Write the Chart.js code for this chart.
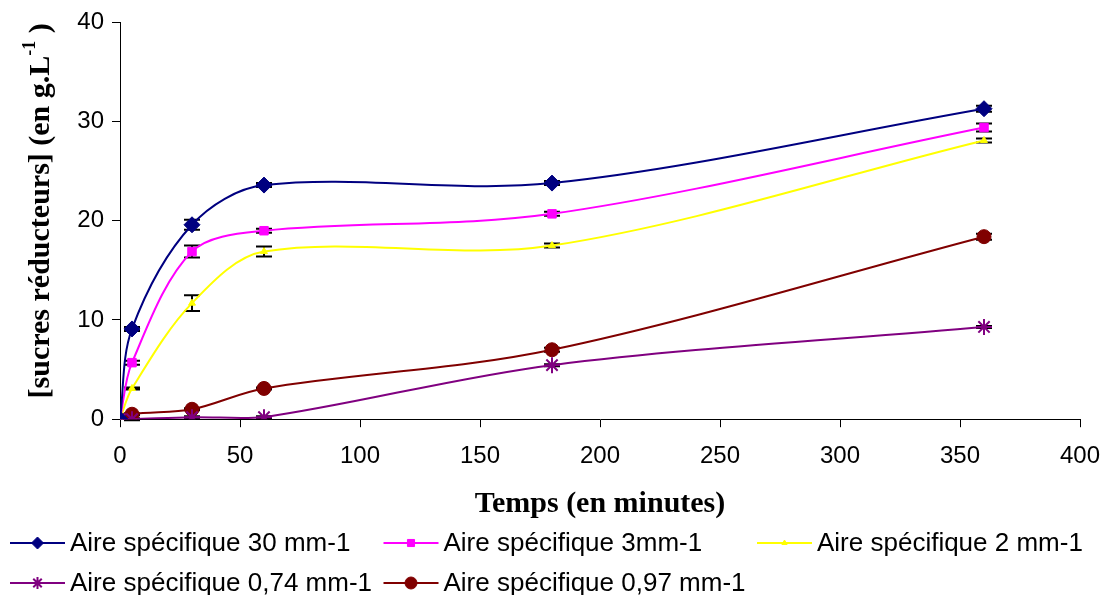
<!DOCTYPE html>
<html>
<head>
<meta charset="utf-8">
<script src="https://cdn.jsdelivr.net/npm/chart.js@4.4.0/dist/chart.umd.min.js"></script>
<style>
  html, body { margin: 0; padding: 0; background: #fff; }
  #wrap { width: 1109px; height: 595px; }
</style>
</head>
<body>
<div id="wrap"><canvas id="myChart"></canvas></div>
<script>
// --- data --- //
const times = [0, 5, 30, 60, 180, 360];
const xTicks = [0, 50, 100, 150, 200, 250, 300, 350, 400];
const yTicks = [0, 10, 20, 30, 40];

const aire30 = [0, 9.1, 19.6, 23.6, 23.8, 31.3];
const aire3 = [0, 5.7, 16.9, 19.0, 20.7, 29.4];
const aire2 = [0, 3.1, 11.7, 16.9, 17.5, 28.1];
const aire074 = [0, 0, 0.2, 0.2, 5.45, 9.3];
const aire097 = [0, 0.5, 1.0, 3.1, 7.0, 18.4];

const err30 = [0, 0.2, 0.5, 0.2, 0.2, 0.3];
const err3 = [0, 0.2, 0.6, 0.2, 0.2, 0.4];
const err2 = [0, 0.1, 0.8, 0.5, 0.2, 0.2];
const err074 = [0, 0.1, 0.1, 0.1, 0.1, 0.1];
const err097 = [0, 0.1, 0.1, 0.1, 0.2, 0.3];

const labels = [
  "Aire spécifique 30 mm-1",
  "Aire spécifique 3mm-1",
  "Aire spécifique 2 mm-1",
  "Aire spécifique 0,74 mm-1",
  "Aire spécifique 0,97 mm-1",
];

function toPoints(values) {
  return times.map((t, i) => ({ x: t, y: values[i] }));
}

function makeSet(label, values, errors, color, style, radius) {
  return {
    label: label,
    data: toPoints(values),
    errors: errors,
    borderColor: color,
    backgroundColor: color,
    borderWidth: 2,
    pointStyle: style,
    pointRadius: radius,
    pointHoverRadius: radius,
    pointBorderWidth: style === "star" ? 2 : 1,
    tension: 0.33,
  };
}

const datasets = [
  makeSet(labels[0], aire30, err30, "#000080", "rectRot", 8),
  makeSet(labels[1], aire3, err3, "#FF00FF", "rect", 6),
  makeSet(labels[2], aire2, err2, "#FFFF00", "triangle", 4),
  makeSet(labels[3], aire074, err074, "#800080", "star", 8),
  makeSet(labels[4], aire097, err097, "#800000", "circle", 7),
];

// --- error bars --- //
const errorBars = {
  id: "errorBars",
  beforeDatasetsDraw(chart) {
    const ctx = chart.ctx;
    const xs = chart.scales.x;
    const ys = chart.scales.y;
    ctx.save();
    ctx.strokeStyle = "#000";
    ctx.lineWidth = 2;
    chart.data.datasets.forEach((ds) => {
      ds.data.forEach((p, i) => {
        const e = ds.errors[i];
        if (!e) return;
        const px = xs.getPixelForValue(p.x);
        const top = ys.getPixelForValue(p.y + e);
        const bot = ys.getPixelForValue(p.y - e);
        ctx.beginPath();
        ctx.moveTo(px, top);
        ctx.lineTo(px, bot);
        ctx.moveTo(px - 8, top);
        ctx.lineTo(px + 8, top);
        ctx.moveTo(px - 8, bot);
        ctx.lineTo(px + 8, bot);
        ctx.stroke();
      });
    });
    ctx.restore();
  },
};

// --- legend in a 3 column grid (like the excel one) --- //
const legendSmall = { rectRot: 6, rect: 5, triangle: 3, star: 6, circle: 6 };
const gridLegend = {
  id: "gridLegend",
  afterDraw(chart) {
    const ctx = chart.ctx;
    ctx.save();
    ctx.font = "26px 'Liberation Sans', Arial, sans-serif";
    ctx.textBaseline = "middle";
    ctx.textAlign = "left";
    chart.data.datasets.forEach((ds, i) => {
      const x = 10 + (i % 3) * 373.5;
      const y = 543 + Math.floor(i / 3) * 40;
      ctx.strokeStyle = ds.borderColor;
      ctx.lineWidth = 2;
      ctx.beginPath();
      ctx.moveTo(x, y);
      ctx.lineTo(x + 55, y);
      ctx.stroke();
      ctx.fillStyle = ds.borderColor;
      ctx.lineWidth = ds.pointBorderWidth;
      Chart.helpers.drawPoint(ctx, { pointStyle: ds.pointStyle, radius: legendSmall[ds.pointStyle], rotation: 0, borderWidth: ds.pointBorderWidth }, x + 27.5, y);
      ctx.fillStyle = "#000";
      ctx.fillText(ds.label, x + 60, y + 1);
    });
    ctx.restore();
  },
};

// --- y title with superscript --- //
const yTitle = {
  id: "yTitle",
  afterDraw(chart) {
    const ctx = chart.ctx;
    const area = chart.chartArea;
    const main = "bold 30px 'Liberation Serif', 'Times New Roman', serif";
    const sup = "bold 18px 'Liberation Serif', 'Times New Roman', serif";
    const a = "[sucres réducteurs] (en g.L";
    const b = "-1";
    const c = " )";
    ctx.save();
    ctx.font = main;
    const wa = ctx.measureText(a).width;
    const wc = ctx.measureText(c).width;
    ctx.font = sup;
    const wb = ctx.measureText(b).width;
    const total = wa + wb + wc;
    ctx.translate(41, (area.top + area.bottom) / 2 - 10);
    ctx.rotate(-Math.PI / 2);
    ctx.fillStyle = "#000";
    ctx.textBaseline = "middle";
    ctx.textAlign = "left";
    let x = -total / 2;
    ctx.font = main;
    ctx.fillText(a, x, 0);
    x += wa;
    ctx.font = sup;
    ctx.fillText(b, x, -11);
    x += wb;
    ctx.font = main;
    ctx.fillText(c, x, 0);
    ctx.restore();
  },
};

const tickFont = { family: "'Liberation Sans', Arial, sans-serif", size: 24 };

new Chart(document.getElementById("myChart"), {
  type: "line",
  data: { datasets: datasets },
  plugins: [errorBars, yTitle, gridLegend],
  options: {
    responsive: true,
    maintainAspectRatio: false,
    animation: false,
    layout: { padding: { top: 10, right: 29, left: -11, bottom: 76 } },
    scales: {
      x: {
        type: "linear",
        min: 0,
        max: 400,
        afterBuildTicks: (scale) => {
          scale.ticks = xTicks.map((v) => ({ value: v }));
        },
        afterFit: (scale) => {
          // the tick padding is meant for the vertical gap only
          scale.paddingRight = 0;
        },
        grid: { drawOnChartArea: false, drawTicks: true, tickLength: 8, tickColor: "#000" },
        border: { display: true, color: "#000", width: 1 },
        ticks: { color: "#000", font: tickFont, padding: 15, maxRotation: 0 },
        title: {
          display: true,
          text: "Temps (en minutes)",
          color: "#000",
          font: { family: "'Liberation Serif', 'Times New Roman', serif", size: 30, weight: "bold", lineHeight: 1 },
          padding: { top: 3, bottom: 0 },
        },
      },
      y: {
        min: 0,
        max: 40,
        afterBuildTicks: (scale) => {
          scale.ticks = yTicks.map((v) => ({ value: v }));
        },
        afterFit: (scale) => {
          scale.width = 131;
        },
        grid: { drawOnChartArea: false, drawTicks: true, tickLength: 8, tickColor: "#000" },
        border: { display: true, color: "#000", width: 1 },
        ticks: { color: "#000", font: tickFont, padding: 8 },
      },
    },
    plugins: {
      legend: { display: false },
      tooltip: { enabled: false },
    },
  },
});
</script>
</body>
</html>
